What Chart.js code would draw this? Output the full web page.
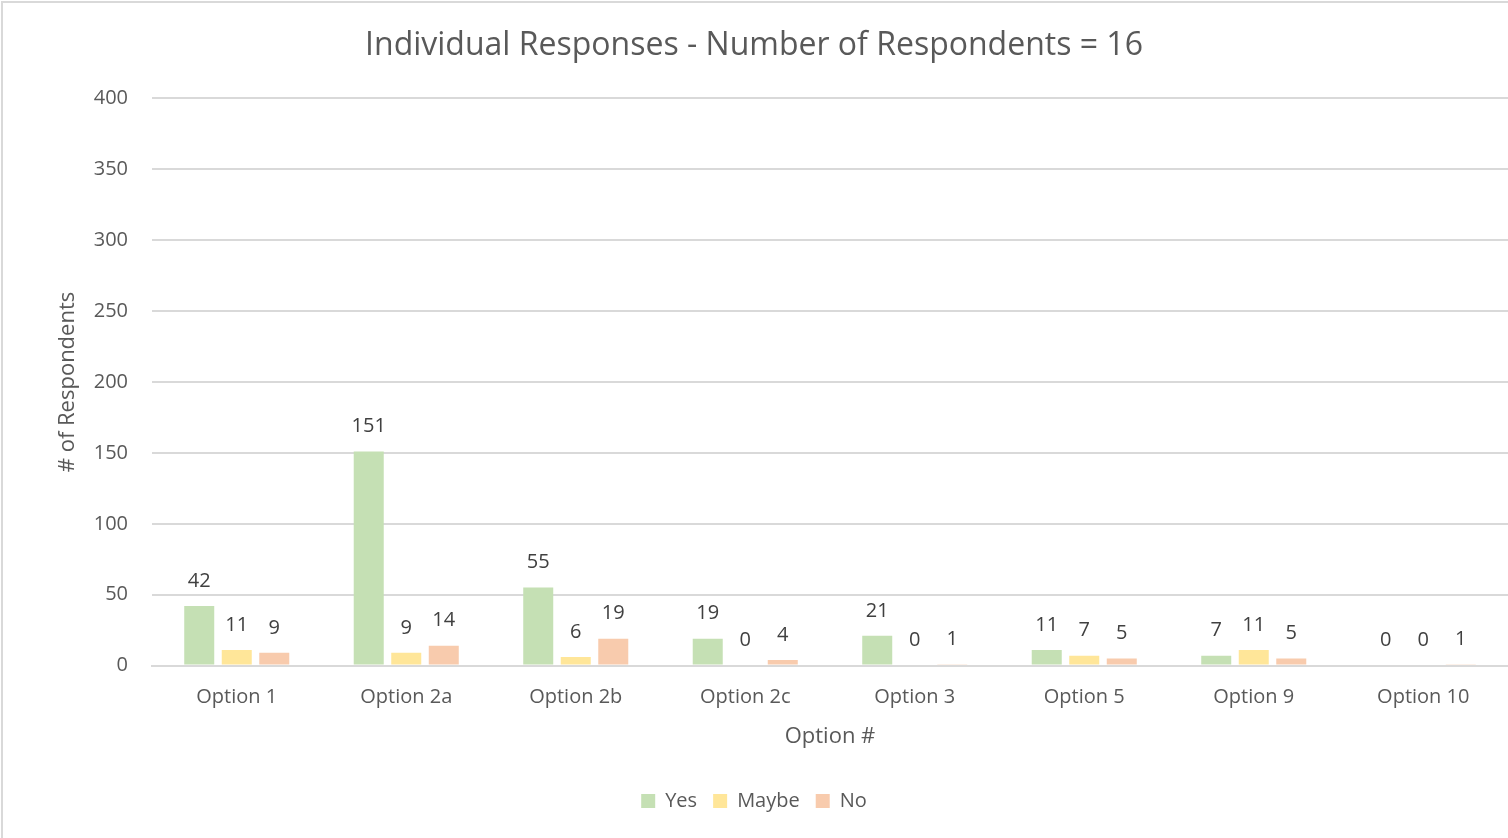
<!DOCTYPE html>
<html>
<head>
<meta charset="utf-8">
<script src="https://cdn.jsdelivr.net/npm/chart.js@4"></script>
<style>
  html, body { margin: 0; padding: 0; background: #fff; overflow: hidden; }
  #wrap {
    position: absolute; left: 1px; top: 1px;
    width: 1520px; height: 850px;
    border-left: 2px solid #d9d9d9; border-top: 2px solid #d9d9d9;
  }
  #box { position: absolute; left: -3px; top: -3px; width: 1508px; height: 838px; }
</style>
</head>
<body>
<div id="wrap"><div id="box"><canvas id="chart"></canvas></div></div>
<script>
const categories = ["Option 1", "Option 2a", "Option 2b", "Option 2c", "Option 3", "Option 5", "Option 9", "Option 10"];
const yesValues = [42, 151, 55, 19, 21, 11, 7, 0];
const maybeValues = [11, 9, 6, 0, 0, 7, 11, 0];
const noValues = [9, 14, 19, 4, 1, 5, 5, 1];

const fontFamily = "'Open Sans', 'Noto Sans', sans-serif";
const textColor = "#595959";

// etiquetas de valor encima de cada barra
const barLabels = {
  id: "barLabels",
  afterDatasetsDraw(chart) {
    const ctx = chart.ctx;
    ctx.save();
    ctx.font = "20px " + fontFamily;
    ctx.fillStyle = "#404040";
    ctx.textAlign = "center";
    ctx.textBaseline = "bottom";
    chart.data.datasets.forEach((ds, i) => {
      chart.getDatasetMeta(i).data.forEach((bar, j) => {
        ctx.fillText(ds.data[j], bar.x, bar.y - 15);
      });
    });
    ctx.restore();
  }
};

Chart.defaults.font.family = fontFamily;
Chart.defaults.color = textColor;

new Chart(document.getElementById("chart"), {
  type: "bar",
  data: {
    labels: categories,
    datasets: [
      { label: "Yes", data: yesValues, backgroundColor: "#C5E0B4" },
      { label: "Maybe", data: maybeValues, backgroundColor: "#FFE699" },
      { label: "No", data: noValues, backgroundColor: "#F8CBAD" }
    ]
  },
  options: {
    responsive: true,
    maintainAspectRatio: false,
    animation: false,
    categoryPercentage: 0.664,
    barPercentage: 0.8,
    layout: { padding: { left: 0, right: 0, top: 27, bottom: 17 } },
    plugins: {
      title: {
        display: true,
        text: "Individual Responses - Number of Respondents = 16",
        font: { size: 32, weight: "normal" },
        color: textColor,
        padding: { top: 0, bottom: 33 }
      },
      legend: {
        position: "bottom",
        labels: {
          font: { size: 20 },
          color: textColor,
          boxWidth: 14,
          boxHeight: 14,
          padding: 16
        }
      },
      tooltip: { enabled: false }
    },
    scales: {
      x: {
        grid: { display: false },
        border: { color: "#d9d9d9", width: 2 },
        ticks: { font: { size: 20 }, color: textColor, padding: 12 },
        title: { display: true, text: "Option #", font: { size: 22 }, color: textColor, padding: { top: 2, bottom: 25 } }
      },
      y: {
        min: 0,
        max: 400,
        afterFit(scale) { scale.width = 152; },
        ticks: { stepSize: 50, font: { size: 20 }, color: textColor, padding: 24 },
        grid: { color: "#d9d9d9", lineWidth: 2, drawTicks: false },
        border: { display: false },
        title: { display: true, text: "# of Respondents", font: { size: 22 }, color: textColor, padding: { top: 55, bottom: 0 } }
      }
    }
  },
  plugins: [barLabels]
});
</script>
</body>
</html>
